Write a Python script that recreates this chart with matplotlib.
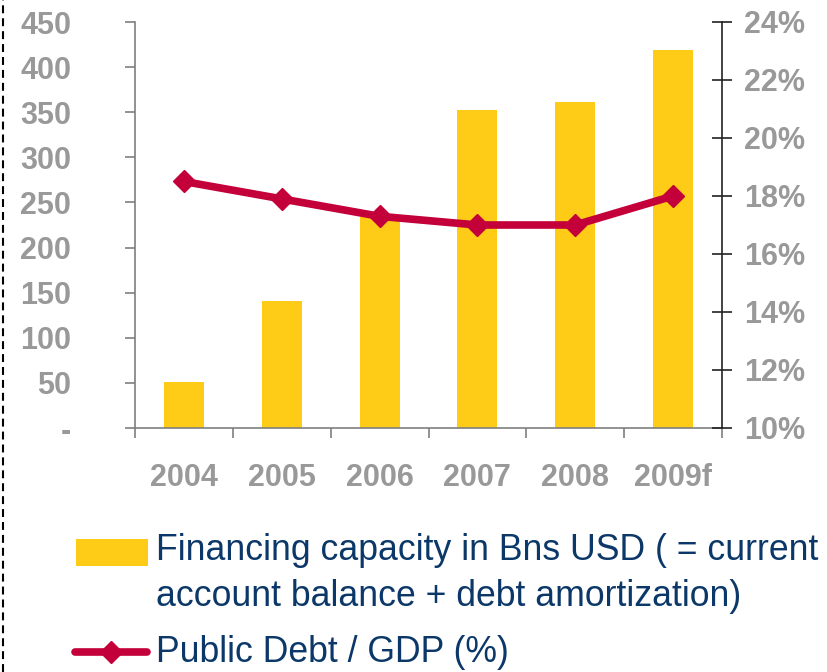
import numpy as np
import matplotlib
matplotlib.use("Agg")
import matplotlib.pyplot as plt
from matplotlib.lines import Line2D
from matplotlib.patches import Rectangle
from matplotlib.ticker import FixedLocator, FuncFormatter

plt.rcParams["font.family"] = ["Liberation Sans", "DejaVu Sans"]

# Data
years = ["2004", "2005", "2006", "2007", "2008", "2009f"]
financing_bn_usd = [51, 141, 234, 353, 361, 419]
debt_to_gdp_pct = [18.5, 17.9, 17.3, 17.0, 17.0, 18.0]

left_ticks = [0, 50, 100, 150, 200, 250, 300, 350, 400, 450]
right_ticks = [10, 12, 14, 16, 18, 20, 22, 24]

BAR_COLOR = "#FECB17"
LINE_COLOR = "#C3003A"
TICK_GREY = "#999999"
TEXT_NAVY = "#0B3868"
AXIS_GREY = "#7F7F7F"

W, H = 827, 672
fig = plt.figure(figsize=(W / 100, H / 100), dpi=100)


def px(x, y):
    """Pixel position (from top-left) to figure fraction."""
    return x / W, 1 - y / H


ax_left, ax_right, ax_top, ax_bot = 135, 722, 22, 428
ax = fig.add_axes([ax_left / W, 1 - ax_bot / H,
                   (ax_right - ax_left) / W, (ax_bot - ax_top) / H])

x = np.arange(len(years))
ax.bar(x, financing_bn_usd, width=0.41, color=BAR_COLOR, zorder=2)
ax.set_xlim(-0.5, len(years) - 0.5)
ax.set_ylim(0, 450)

ax.spines["top"].set_visible(False)
ax.spines["right"].set_visible(False)
ax.spines["left"].set_color(AXIS_GREY)
ax.spines["bottom"].set_color(AXIS_GREY)
ax.spines["left"].set_linewidth(1.2)
ax.spines["bottom"].set_linewidth(1.2)

ax.yaxis.set_major_locator(FixedLocator(left_ticks))
ax.yaxis.set_major_formatter(FuncFormatter(lambda v, _: "-" if v == 0 else f"{v:.0f}"))
ax.tick_params(axis="y", direction="out", length=7, width=1.2, color=AXIS_GREY,
               labelsize=22, labelcolor=TICK_GREY, pad=39)

# category labels centred under bars, tick marks on category boundaries
ax.set_xticks(x)
ax.set_xticklabels(years)
ax.set_xticks(np.arange(-0.5, len(years)), minor=True)
ax.tick_params(axis="x", which="major", length=0, labelsize=22,
               labelcolor=TICK_GREY, pad=25)
ax.tick_params(axis="x", which="minor", direction="out", length=7, width=1.2,
               color=AXIS_GREY)
for lab in ax.get_xticklabels() + ax.get_yticklabels():
    lab.set_fontweight("bold")

ax2 = ax.twinx()
ax2.plot(x, debt_to_gdp_pct, color=LINE_COLOR, linewidth=5.5, marker="D",
         markersize=11, solid_capstyle="round", zorder=3)
ax2.set_ylim(10, 24)
ax2.yaxis.set_major_locator(FixedLocator(right_ticks))
ax2.yaxis.set_major_formatter(FuncFormatter(lambda v, _: f"{v:.0f}%"))
ax2.tick_params(axis="y", direction="inout", length=14, width=1.2, color="#222222",
                labelsize=22, labelcolor=TICK_GREY, pad=9)
for lab in ax2.get_yticklabels():
    lab.set_fontweight("bold")
for side in ["top", "left", "bottom"]:
    ax2.spines[side].set_visible(False)
ax2.spines["right"].set_color("#222222")
ax2.spines["right"].set_linewidth(1.2)

# legend drawn by hand so the two-line label sits like the original
LEG_SIZE = 25.7
fig.add_artist(Rectangle(px(76, 566), 72 / W, 27 / H, transform=fig.transFigure,
                         facecolor=BAR_COLOR, edgecolor="none"))
fig.text(*px(156, 560), "Financing capacity in Bns USD ( = current",
         fontsize=LEG_SIZE, color=TEXT_NAVY, va="baseline", ha="left")
fig.text(*px(156, 606), "account balance + debt amortization)",
         fontsize=LEG_SIZE, color=TEXT_NAVY, va="baseline", ha="left")
lx0, ly0 = px(75, 652)
lx1, _ = px(147, 652)
fig.add_artist(Line2D([lx0, lx1], [ly0, ly0], transform=fig.transFigure,
                      color=LINE_COLOR, linewidth=5.5, solid_capstyle="round"))
fig.add_artist(Line2D([(lx0 + lx1) / 2], [ly0], transform=fig.transFigure,
                      color=LINE_COLOR, marker="D", markersize=11, linestyle="none"))
fig.text(*px(156, 662), "Public Debt / GDP (%)",
         fontsize=LEG_SIZE, color=TEXT_NAVY, va="baseline", ha="left")

# dashed frame edge on the far left
fig.add_artist(Line2D([3 / W, 3 / W], [0, 1], transform=fig.transFigure,
                      color="black", linewidth=1.5, linestyle=(0, (3.8, 2.4))))

fig.savefig("out.png", dpi=100)
